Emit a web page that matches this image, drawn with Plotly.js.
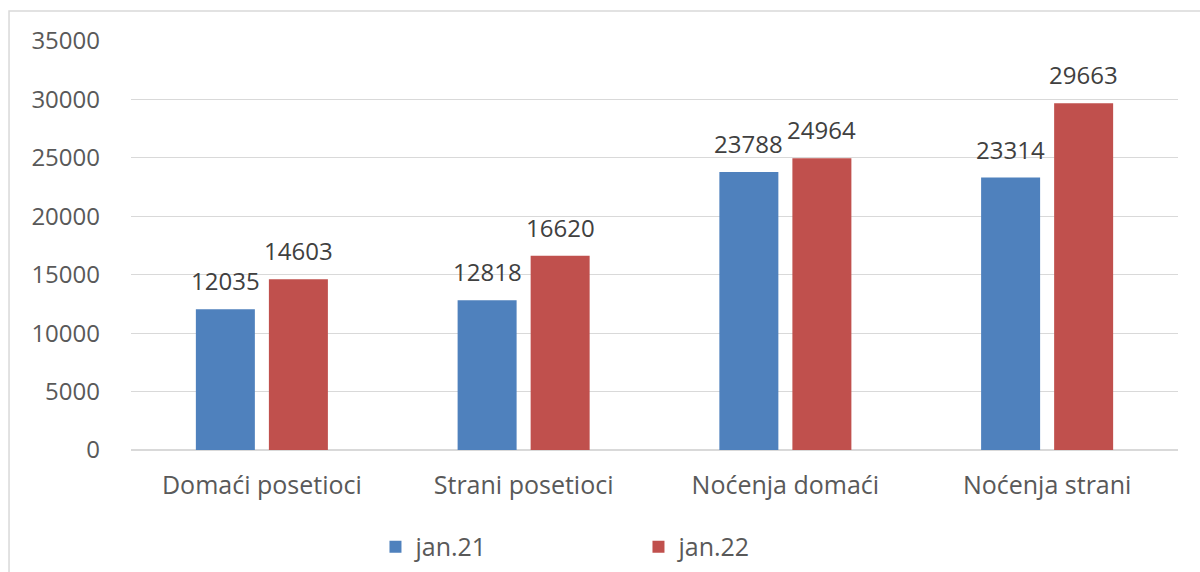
<!DOCTYPE html>
<html>
<head>
<meta charset="utf-8">
<script src="https://cdn.plot.ly/plotly-3.0.1.min.js"></script>
<style>html,body{margin:0;padding:0;background:#fff;}#chart{width:1200px;height:572px;}</style>
</head>
<body>
<div id="chart"></div>
<script>
var categories = ["Domaći posetioci", "Strani posetioci", "Noćenja domaći", "Noćenja strani"];
var seriesNames = ["jan.21", "jan.22"];
var jan21 = [12035, 12818, 23788, 23314];
var jan22 = [14603, 16620, 24964, 29663];
var yTicks = [0, 5000, 10000, 15000, 20000, 25000, 30000, 35000];

var FONT = "Open Sans, Noto Sans, sans-serif";
var colors = ["#4f81bd", "#c0504d"];
var series = [jan21, jan22];

var traces = series.map(function (vals, i) {
  return {
    type: "bar",
    name: seriesNames[i],
    x: categories,
    y: vals,
    marker: {color: colors[i]},
    hoverinfo: "x+y"
  };
});

var annotations = [];
series.forEach(function (vals, i) {
  vals.forEach(function (v, j) {
    annotations.push({
      x: categories[j], y: v, xref: "x", yref: "y",
      text: String(v), showarrow: false,
      yanchor: "bottom", yshift: 10, xshift: i === 0 ? -36.5 : 36.5,
      font: {family: FONT, size: 24, color: "#404040"}
    });
  });
});

var layout = {
  width: 1200, height: 572,
  margin: {l: 131, r: 22, t: 41, b: 122, autoexpand: false},
  paper_bgcolor: "#fff", plot_bgcolor: "#fff",
  barmode: "group",
  bargap: 0.442,
  bargroupgap: 0.192,
  showlegend: true,
  legend: {
    orientation: "h", x: 0.2335, xanchor: "left", y: -0.237, yanchor: "middle",
    entrywidth: 218, entrywidthmode: "pixels",
    font: {family: FONT, size: 25, color: "#595959"},
    itemclick: false, itemdoubleclick: false
  },
  xaxis: {
    type: "category", automargin: false,
    showgrid: false, zeroline: false, showline: false,
    ticks: "", ticklabelstandoff: 18,
    tickfont: {family: FONT, size: 25, color: "#595959"}
  },
  yaxis: {
    range: [0, 35000], automargin: false,
    tickvals: yTicks,
    ticktext: yTicks.map(String),
    showgrid: true, gridcolor: "#d9d9d9", gridwidth: 1.3,
    zeroline: true, zerolinecolor: "#d9d9d9", zerolinewidth: 1.5,
    showline: false, ticks: "", ticklabelstandoff: 30,
    tickfont: {family: FONT, size: 24, color: "#595959"}
  },
  annotations: annotations,
  shapes: [{
    type: "rect", xref: "paper", yref: "paper",
    x0: -0.1165, x1: 1.1, y0: -0.5, y1: 1.0733,
    line: {color: "#d9d9d9", width: 1.5}, fillcolor: "rgba(0,0,0,0)", layer: "below"
  }]
};

Plotly.newPlot("chart", traces, layout, {displayModeBar: false});
</script>
</body>
</html>
